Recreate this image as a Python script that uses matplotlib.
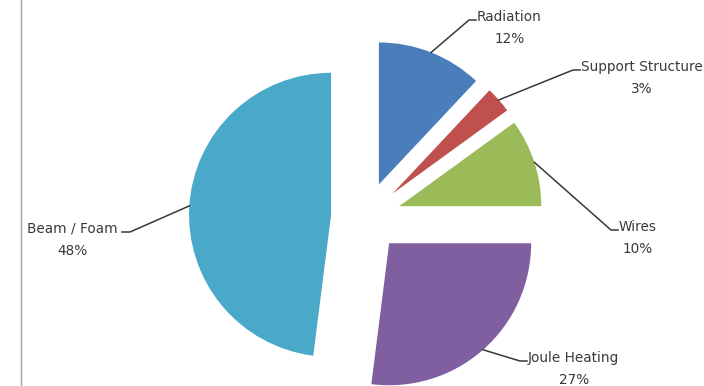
import numpy as np
import matplotlib
matplotlib.use("Agg")
import matplotlib.pyplot as plt

labels = ["Radiation", "Support Structure", "Wires", "Joule Heating", "Beam / Foam"]
values = [12, 3, 10, 27, 48]
colors = ["#4A7EBB", "#C0504D", "#9BBB59", "#7F5FA0", "#4AA8C8"]

W, H = 704, 386
cx, cy = 366, H - 217   # pie centre in pixels (y up)
r = 142
gap = 35                # explode distance

# label layout: (text x, first line centre y from top, side)
label_pos = [(477, 17, "left"), (581, 67, "left"), (619, 227, "left"),
             (528, 358, "left"), (118, 229, "right")]

plt.rcParams['font.family'] = ['DejaVu Sans']
fig = plt.figure(figsize=(W / 100, H / 100), dpi=100)
ax = fig.add_axes([0, 0, 1, 1])

wedges, _ = ax.pie(values, colors=colors, startangle=90, counterclock=False,
                   radius=r, center=(cx, cy), wedgeprops=dict(linewidth=0))

for w, lab, val, (tx, ty, side) in zip(wedges, labels, values, label_pos):
    mid = np.deg2rad((w.theta1 + w.theta2) / 2)
    c = (cx + gap * np.cos(mid), cy + gap * np.sin(mid))
    w.set_center(c)
    px = c[0] + r * np.cos(mid)
    py = c[1] + r * np.sin(mid)
    ly = H - ty - 3
    if side == "left":
        hx, ex, ha = tx - 1, tx - 8, "left"
    else:
        hx, ex, ha = tx + 4, tx + 12, "right"
    ax.plot([px, ex, hx], [py, ly, ly], color="#383838", lw=1.1)
    ax.text(tx, H - ty + 7, f"{lab}\n{val}%", ha=ha, va="top", multialignment="center",
            fontsize=9.8, color="#3a3a3a", linespacing=1.72)

ax.plot([21, 21], [0, H], color="#a0a0a0", lw=1)

ax.set_xlim(0, W)
ax.set_ylim(0, H)
ax.set_aspect("equal")
ax.axis("off")
fig.savefig("out.png", dpi=100, facecolor="white")
